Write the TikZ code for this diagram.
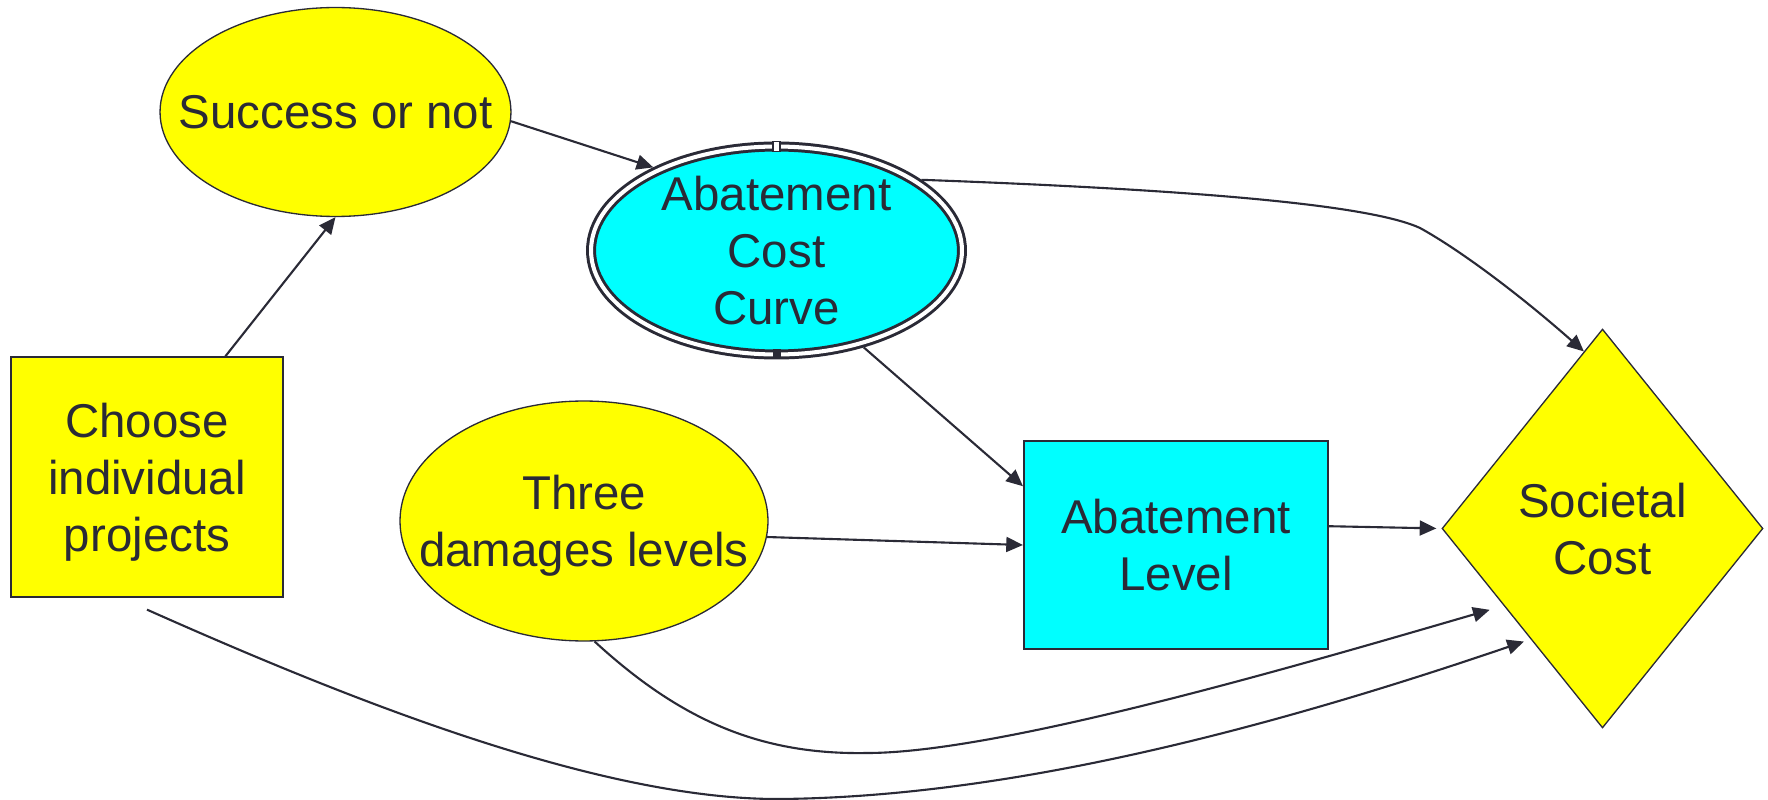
\documentclass[tikz,border=0pt]{standalone}
\usepackage{fontspec}
\setmainfont{Liberation Sans}
\usetikzlibrary{shapes.geometric,arrows.meta}
\definecolor{ink}{RGB}{42,42,54}
\definecolor{nodeyellow}{RGB}{255,255,0}
\definecolor{nodecyan}{RGB}{0,255,255}

\begin{document}
\begin{tikzpicture}[x=0.02cm, y=-0.02cm,
    every node/.style={font=\fontsize{27}{32.5}\selectfont, text=ink, align=center, text depth=0pt},
    chance/.style={ellipse, draw=ink, line width=0.75pt, fill=nodeyellow, inner sep=-1cm},
    decision/.style={rectangle, draw=ink, line width=0.75pt, fill=nodeyellow},
    link/.style={draw=ink, line width=1.2pt, -{Triangle[length=9.5pt,width=8.5pt]}}]
    \useasboundingbox (0,0) rectangle (1768,800);

    \node [decision, minimum width=5.44cm, minimum height=4.8cm] (choose) at (147,477) {Choose\\individual\\projects};
    \node [chance, minimum width=7.02cm, minimum height=4.18cm] (success) at (335.5,112) {Success or not};
    \node [ellipse, draw=ink, line width=1.7pt, double=white, double distance=2.3pt, fill=nodecyan,
           inner sep=-1cm, outer sep=0.1cm, minimum width=7.42cm, minimum height=4.16cm] (curve) at (776.5,250.5) {Abatement\\Cost\\Curve};
    \node [chance, minimum width=7.36cm, minimum height=4.8cm] (damages) at (584,521) {Three\\damages levels};
    \node [rectangle, draw=ink, line width=1.2pt, fill=nodecyan, minimum width=6.08cm, minimum height=4.16cm] (level) at (1176,545) {Abatement\\Level};
    \node [diamond, draw=ink, line width=0.75pt, fill=nodeyellow, minimum width=6.42cm, minimum height=7.98cm] (cost) at (1602.5,528.5) {Societal\\Cost};

    % handles on the curve node
    \draw [ink, fill=white, line width=0.6pt] ([shift={(-3.5,0)}]curve.north) rectangle ([shift={(3.5,10)}]curve.north);
    \fill [ink] ([shift={(-4,-10)}]curve.south) rectangle ([shift={(4,0)}]curve.south);

    \draw [link] (choose.57) -- (success.south);
    \draw [link] (success.-3) -- (curve.146);
    \draw [link] (curve.-48) -- (level.159);
    \draw [link] (damages.-5) -- (level.west);
    \draw [link, shorten >=0.1cm] (level.7) -- (cost.west);
    \draw [link] (curve.26) .. controls (1200,190) and (1370,205) .. (1420,228)
        .. controls (1460,250) and (1520,295) .. (cost.96);
    \draw [link, shorten >=0.29cm] (damages.-85) .. controls (680,720) and (760,755) .. (867,753)
        .. controls (1000,753) and (1300,665) .. (cost.218);
    \draw [link, shorten >=0.14cm] ([yshift=-0.24cm]choose.south) .. controls (350,700) and (600,800) .. (780,799)
        .. controls (1000,797) and (1250,735) .. (cost.237);
\end{tikzpicture}
\end{document}
